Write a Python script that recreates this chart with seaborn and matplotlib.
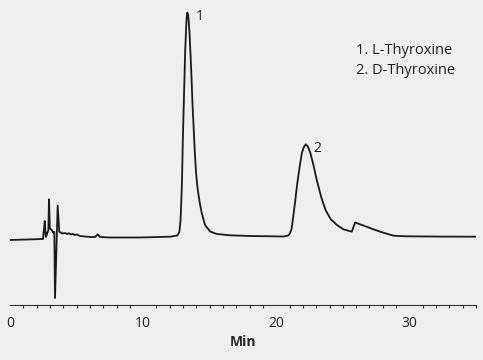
import numpy as np
import pandas as pd
import matplotlib.pyplot as plt
import seaborn as sns

# retention time (min) and detector signal (arbitrary units)
time_min = [0.00, 2.48, 2.61, 2.66, 2.70, 2.88, 2.93, 2.99, 3.06, 3.13, 3.25, 3.33,
            3.38, 3.58, 3.70, 3.91, 4.13, 4.28, 4.43, 4.58, 4.71, 4.88, 5.01, 5.26,
            6.01, 6.39, 6.59, 6.76, 7.51, 9.77,
            12.02, 12.57, 12.72, 12.81, 12.87, 12.92, 12.98, 13.04, 13.10, 13.16,
            13.24, 13.28, 13.32, 13.37, 13.42, 13.49, 13.56, 13.64, 13.71, 13.79,
            13.88, 13.97, 14.05, 14.15, 14.24, 14.40, 14.65, 15.03, 15.53, 16.53,
            18.03, 20.59, 20.89, 21.02, 21.15, 21.26, 21.43, 21.56, 21.74, 21.92, 22.07,
            22.22, 22.39, 22.56, 22.79, 23.04, 23.37, 23.70, 24.08, 24.55, 25.04,
            25.67, 25.92, 26.54, 27.29, 27.80, 28.80, 29.80, 32.31, 35.00]
signal = [0.0, 1.0, 19.0, 8.0, 3.0, 10.0, 40.7, 12.0, 10.7, 10.0, 7.3, 8.0,
          -58.0, 34.3, 8.3, 6.5, 7.0, 6.0, 6.8, 5.5, 6.2, 5.0, 5.5, 4.0,
          3.0, 3.0, 5.7, 3.0, 2.5, 2.5,
          3.3, 4.5, 8.0, 20.0, 40.0, 60.0, 100.0, 130.0, 160.0, 190.0,
          215.0, 224.0, 227.5, 226.0, 220.0, 205.0, 185.0, 160.0, 135.0, 113.0,
          88.0, 68.0, 56.0, 46.0, 38.0, 27.0, 15.0, 8.5, 6.0, 4.7,
          4.0, 3.5, 4.5, 6.5, 11.0, 22.0, 40.0, 55.0, 72.0, 87.0, 93.0,
          95.7, 93.0, 87.0, 75.0, 60.0, 43.0, 30.0, 21.0, 15.0, 10.7,
          8.3, 17.5, 14.5, 10.7, 8.3, 4.3, 3.7, 3.4, 3.3]

peak_labels = ["1", "2"]
peak_names = ["1. L-Thyroxine", "2. D-Thyroxine"]
peak_time = [13.32, 22.22]
peak_height = [227.5, 95.7]

df = pd.DataFrame({"time": time_min, "signal": signal})

sns.set_style("white")
plt.rcParams["font.family"] = ["Open Sans", "DejaVu Sans"]

bg = "#eeeeee"
fig = plt.figure(figsize=(4.83, 3.6), dpi=100, facecolor=bg)
ax = fig.add_axes([10 / 483, 55 / 360, 466 / 483, 305 / 360])
ax.set_facecolor(bg)

sns.lineplot(data=df, x="time", y="signal", ax=ax, color="#1a1a1a",
             linewidth=1.3, sort=False, solid_joinstyle="round")

for lab, t, h in zip(peak_labels, peak_time, peak_height):
    ax.text(t + 0.6, h - 4, lab, fontsize=10, color="#222222",
            ha="left", va="center")

ax.text(26.0, 197, "\n".join(peak_names), fontsize=10.5, color="#222222",
        ha="left", va="top", linespacing=1.5)

ax.set_xlim(0, 35)
ax.set_ylim(-65, 240)
ax.set_xticks([0, 10, 20, 30])
ax.set_xticks(range(0, 36), minor=True)
ax.set_yticks([])
ax.set_ylabel("")
ax.set_xlabel("Min", fontsize=10, fontweight="bold", labelpad=3)
ax.tick_params(axis="x", which="major", length=5, width=0.8, direction="out",
               labelsize=10, pad=3, colors="#222222")
ax.tick_params(axis="x", which="minor", length=2.5, width=0.8, direction="out",
               bottom=True)

for side in ["top", "right", "left"]:
    ax.spines[side].set_visible(False)
ax.spines["bottom"].set_color("#333333")
ax.spines["bottom"].set_linewidth(0.8)

plt.savefig("out.png", dpi=100, facecolor=bg)
